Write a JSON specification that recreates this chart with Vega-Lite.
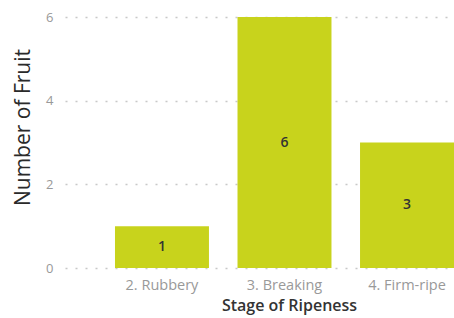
{
  "$schema": "https://vega.github.io/schema/vega-lite/v6.json",
  "autosize": {"type": "none"},
  "padding": {"left": 65, "top": 17, "right": 0, "bottom": 50},
  "width": 389,
  "height": 251,
  "background": "white",
  "config": {"view": {"stroke": null}, "font": "Open Sans"},
  "data": {"values": [
    {"stage": "2. Rubbery", "count": 1},
    {"stage": "3. Breaking", "count": 6},
    {"stage": "4. Firm-ripe", "count": 3}
  ]},
  "encoding": {
    "x": {
      "field": "stage", "type": "nominal", "sort": null,
      "scale": {"paddingInner": 0.233, "paddingOuter": 0.204, "align": 1},
      "axis": {"title": "Stage of Ripeness", "labelAngle": 0, "labelColor": "#999999", "labelFontSize": 14.5,
               "labelPadding": 10, "ticks": false, "domain": false, "titleColor": "#333333", "titleFontSize": 16,
               "titleFontWeight": 600, "titlePadding": 6, "titleX": 224}
    }
  },
  "layer": [
    {
      "mark": {"type": "bar", "color": "#c8d31c"},
      "encoding": {
        "y": {
          "field": "count", "type": "quantitative",
          "scale": {"domain": [0, 6], "nice": false},
          "axis": {"title": "Number of Fruit", "values": [0, 2, 4, 6], "labelColor": "#999999", "labelFontSize": 13,
                   "labelPadding": 12, "ticks": false, "domain": false, "gridDash": [2, 8], "gridColor": "#c8c8c8",
                   "gridWidth": 1.5, "titleColor": "#2a2a2a", "titleFontSize": 21, "titleFontWeight": 500,
                   "titlePadding": 12, "titleY": 110}
        }
      }
    },
    {
      "mark": {"type": "text", "color": "#333333", "fontSize": 14, "fontWeight": 600, "baseline": "middle"},
      "encoding": {
        "y": {"field": "count", "type": "quantitative", "scale": {"domain": [0, 12], "nice": false}, "axis": null},
        "text": {"field": "count", "type": "quantitative"}
      }
    }
  ],
  "resolve": {"scale": {"y": "independent"}}
}
